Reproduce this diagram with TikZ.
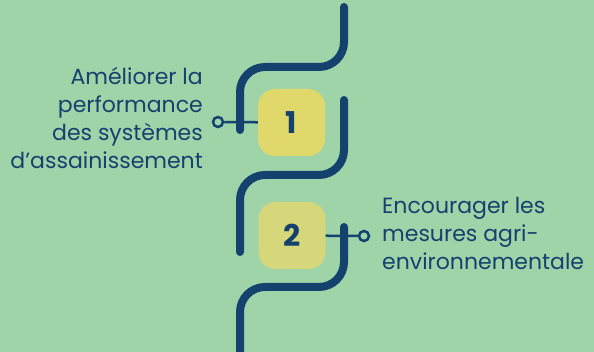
\documentclass[tikz,border=0pt]{standalone}
\usepackage{fontspec}
\setmainfont{Poppins}
\definecolor{bg}{HTML}{9FD4A9}
\definecolor{navy}{HTML}{15416E}
\definecolor{yelA}{HTML}{E0D86A}
\definecolor{yelB}{HTML}{D5D77A}
\tikzset{
  track/.style={draw=navy,line width=8pt,line cap=round,rounded corners=25pt},
  numbox/.style={rounded corners=17pt,minimum width=67pt,minimum height=67pt,inner sep=0pt,text=navy,font=\fontsize{30}{30}\selectfont\bfseries},
  dot/.style={circle,draw=navy,fill=bg,line width=2.5pt,minimum size=10pt,inner sep=0pt},
  link/.style={draw=navy,line width=2.5pt},
  label/.style={text=navy,font=\fontsize{22}{28}\selectfont,inner sep=0pt}
}
\begin{document}
\begin{tikzpicture}[x=1pt,y=-1pt]
\fill[bg] (0,0) rectangle (594,352);
\useasboundingbox (0,0) rectangle (594,352);
% tracks
\draw[track] (344,7) -- (344,67) -- (240,67) -- (240,130);
\draw[track] (344,100) -- (344,175) -- (240,175) -- (240,252);
\draw[track] (344,227) -- (344,287) -- (240,287) -- (240,372);
% boxes
\node[numbox,fill=yelA] (b1) at (291.5,122.5) {1};
\node[numbox,fill=yelB] (b2) at (292,235.5) {2};
% connectors
\node[dot] (c1) at (218,122) {};
\node[dot] (c2) at (364,236) {};
\draw[link] (c1) -- (b1);
\draw[link] (b2) -- (c2);
% labels
\node[label,align=right,anchor=east] (t1) at (203,118) {Améliorer la\\performance\\des systèmes\\d\symbol{39}assainissement};
\node[label,align=left,anchor=west] (t2) at (382,233) {Encourager les\\mesures agri-\\environnementale};
\end{tikzpicture}
\end{document}
